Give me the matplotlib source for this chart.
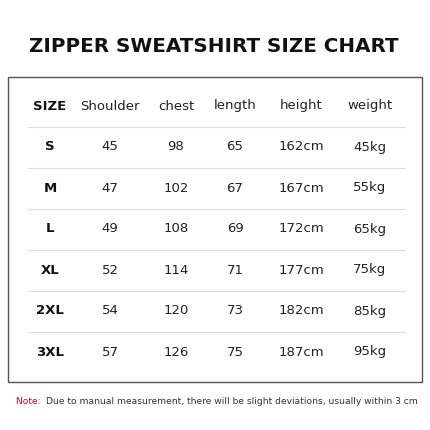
import matplotlib
matplotlib.use("Agg")
import matplotlib.pyplot as plt
from matplotlib.patches import Rectangle

title = "ZIPPER SWEATSHIRT SIZE CHART"
columns = ["SIZE", "Shoulder", "chest", "length", "height", "weight"]
sizes = ["S", "M", "L", "XL", "2XL", "3XL"]
shoulder = [45, 47, 49, 52, 54, 57]
chest = [98, 102, 108, 114, 120, 126]
length = [65, 67, 69, 71, 73, 75]
height = ["162cm", "167cm", "172cm", "177cm", "182cm", "187cm"]
weight = ["45kg", "55kg", "65kg", "75kg", "85kg", "95kg"]
note_label = "Note:"
note_text = "Due to manual measurement, there will be slight deviations, usually within 3 cm"

fig = plt.figure(figsize=(4.3, 4.3), dpi=100)
ax = fig.add_axes([0, 0, 1, 1])
ax.set_xlim(0, 430)
ax.set_ylim(430, 0)
ax.axis("off")

ax.text(214, 47, title, ha="center", va="center", fontsize=14.3,
        fontweight="bold", color="#111111")
ax.add_patch(Rectangle((8, 77), 414, 305, fill=False, edgecolor="#555555", lw=1))

col_x = [50, 110, 176, 235, 301, 370]
row_y0, row_step = 106, 41
ax.text(col_x[0], row_y0, columns[0], ha="center", va="center",
        fontsize=9.5, fontweight="bold", color="#111111")
for x, c in zip(col_x[1:], columns[1:]):
    ax.text(x, row_y0, c, ha="center", va="center", fontsize=9.5, color="#222222")

rows = list(zip(sizes, shoulder, chest, length, height, weight))
for i, row in enumerate(rows):
    y = row_y0 + row_step * (i + 1)
    ax.plot([28, 405], [y - row_step / 2, y - row_step / 2], color="#dddddd", lw=0.8)
    ax.text(col_x[0], y, row[0], ha="center", va="center",
            fontsize=9.5, fontweight="bold", color="#111111")
    for x, v in zip(col_x[1:], row[1:]):
        ax.text(x, y, str(v), ha="center", va="center", fontsize=9.5, color="#222222")

t = ax.text(16, 401, note_label + " ", ha="left", va="center", fontsize=6.6, color="#d0021b")
fig.canvas.draw()
bb = t.get_window_extent().transformed(ax.transData.inverted())
ax.text(bb.x1 + 2, 401, note_text, ha="left", va="center", fontsize=6.6, color="#333333")

fig.savefig("out.png", dpi=100)
